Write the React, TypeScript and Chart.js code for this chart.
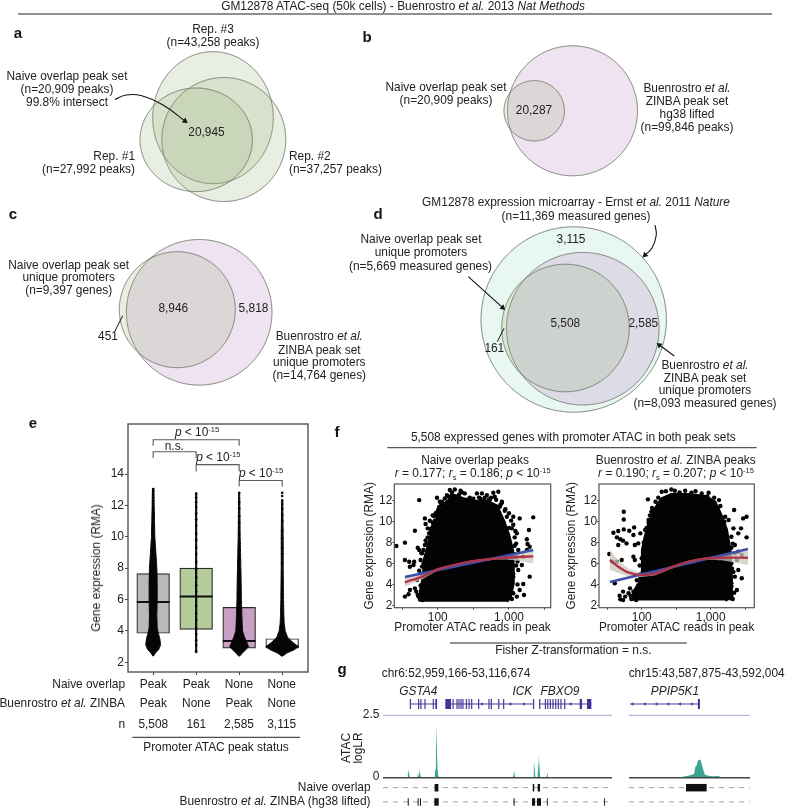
import React, { useEffect, useRef } from "react";
import { Chart, registerables } from "chart.js";

Chart.register(...registerables);
const FONT = '"Liberation Sans", Arial, Helvetica, sans-serif';
Chart.defaults.font.family = FONT;
Chart.defaults.font.size = 11.9;
Chart.defaults.color = "#222";

// ---------- panel e data ----------
const swarmCategories = [1, 2, 3, 4];
const naiveStatus = ["Peak", "Peak", "None", "None"];
const zinbaStatus = ["Peak", "None", "Peak", "None"];
const geneCounts = ["5,508", "161", "2,585", "3,115"];
const boxQ1 = [3.85, 4.1, 2.9, 2.9];
const boxQ3 = [7.65, 8.0, 5.5, 3.5];
const boxMedian = [5.85, 6.2, 3.35, 3.0];
const boxColors = ["#B9B9B7", "#B4CB9A", "#C7A0C4", "#FFFFFF"];
const swarmLevels1 = [13.1, 12, 11, 10, 9, 8, 7, 6, 5, 4.2, 3.9, 3.5, 3.1, 2.8, 2.6, 2.4];
const swarmHalf1 = [0.016, 0.023, 0.031, 0.039, 0.0625, 0.086, 0.094, 0.094, 0.086, 0.094, 0.117, 0.156, 0.172, 0.125, 0.055, 0.008];
const swarmLevels2 = [12.8, 2.6];
const swarmHalf2 = [0.012, 0.012];
const swarmLevels3 = [12.85, 10, 9, 8, 7, 6, 5, 4.5, 4, 3.6, 3.3, 3.0, 2.8, 2.6, 2.4];
const swarmHalf3 = [0.012, 0.023, 0.031, 0.039, 0.047, 0.051, 0.0625, 0.07, 0.078, 0.125, 0.172, 0.219, 0.156, 0.078, 0.016];
const swarmLevels4 = [12.4, 10, 8, 6, 5, 4.5, 4, 3.6, 3.3, 3.0, 2.8, 2.6, 2.4];
const swarmHalf4 = [0.012, 0.023, 0.023, 0.031, 0.039, 0.047, 0.07, 0.125, 0.234, 0.375, 0.281, 0.117, 0.016];
const swarmDots1 = [13.05, 12.9, 12.7, 12.5, 12.3, 12.1, 11.9, 11.7, 11.5, 11.3, 11.1, 10.9, 10.7];
const swarmDots2 = [12.75, 12.5, 12.2, 11.9, 11.5, 11.1, 10.7, 10.2, 9.8, 9.3, 8.9, 8.4, 7.9, 7.4, 6.9, 6.5, 5.6, 5.1, 4.7, 4.2, 3.8, 3.4, 3.1, 2.7];
const swarmDots3 = [12.8, 12.2, 11.8, 11.3, 10.9, 10.2, 9.6, 9.1, 8.5, 7.9, 7.2, 6.6, 4.6];
const swarmDots4 = [12.8, 12.6, 12.3, 12.1, 11.8, 11.4, 11.0, 10.4, 9.9, 9.3, 8.9, 8.3, 7.1, 6.3];

// ---------- panel f data ----------
const naiveCoreLog = [1.75, 1.76, 1.8, 1.81, 1.85, 1.9, 1.92, 1.99, 2.1, 2.24, 2.36, 2.5, 2.69, 2.83, 2.92, 2.99, 3.05, 3.06, 3.06, 3.02, 2.97];
const naiveCoreRma = [2.35, 3.46, 4.74, 6.33, 7.29, 8.56, 9.52, 10.3, 11.73, 12.5, 12.2, 11.95, 11.95, 11.5, 10.15, 8.88, 7.29, 5.69, 4.1, 2.83, 2.35];
const naiveDotLog = [1.42, 1.54, 1.54, 1.6, 1.67, 1.61, 1.74, 1.68, 1.82, 1.83, 1.86, 1.72, 1.74, 1.78, 1.76, 1.66, 1.54, 1.59, 1.61, 1.68, 1.71, 1.7, 1.73, 1.99, 2.03, 2.1, 2.17, 2.24, 2.32, 2.38, 2.13, 2.08, 2.01, 1.95, 1.89, 1.86, 1.82, 1.8, 2.55, 2.62, 2.69, 2.78, 2.85, 2.8, 2.73, 2.87, 2.94, 2.97, 3.06, 3.15, 3.34, 2.92, 3.04, 3.11, 3.28, 3.25, 3.26, 3.29, 3.08, 3.13, 3.2, 3.18, 3.29, 3.2, 3.15, 3.21, 3.11, 3.06, 3.04, 3.25, 3.13, 3.06, 2.45, 2.5, 2.6, 2.3, 2.2, 2.05, 2.0, 1.93, 2.9, 1.75, 1.72, 1.79, 3.0, 3.1, 3.12];
const naiveDotRma = [7.67, 7.99, 6.33, 6.17, 6.17, 5.69, 12.06, 9.13, 10.31, 9.77, 9.36, 7.51, 7.29, 6.97, 6.33, 5.85, 2.83, 3.05, 3.46, 3.62, 4.42, 3.31, 2.83, 12.29, 11.9, 12.22, 13.02, 13.08, 12.96, 12.7, 12.54, 11.11, 11.17, 10.54, 10.09, 8.5, 7.76, 7.29, 12.7, 12.7, 12.54, 12.76, 12.86, 12.38, 12.06, 11.43, 11.04, 10.47, 10.47, 10.31, 10.41, 9.99, 9.36, 8.88, 9.2, 8.31, 7.86, 7.6, 8.5, 7.29, 6.65, 5.85, 4.74, 4.04, 3.46, 2.99, 2.83, 3.15, 2.6, 7.29, 5.38, 4.74, 12.3, 12.2, 12.2, 12.6, 12.5, 11.6, 11, 10.6, 11.9, 2.6, 3.0, 2.5, 9.4, 6.6, 4.0];
const naiveFringeLog = [1.78, 1.8, 1.77, 1.82, 1.85, 1.8, 1.83, 1.88, 1.9, 1.93, 1.97, 2.02, 2.06, 2.15, 2.2, 2.28, 2.34, 2.42, 2.48, 2.58, 2.65, 2.75, 2.82, 2.88, 2.95, 3.0, 3.03, 3.06, 3.09, 3.1, 3.08, 3.12, 3.07, 3.1, 3.06, 3.02, 1.78, 1.76, 1.8, 1.74, 1.78, 1.77, 1.85, 1.87, 1.93, 1.96, 2.0, 2.66, 2.72, 2.9];
const naiveFringeRma = [3.2, 4.0, 5.0, 5.2, 6.8, 6.0, 8.2, 8.9, 9.3, 9.9, 10.8, 11.4, 11.9, 12.4, 12.8, 12.4, 12.8, 12.1, 11.9, 12.3, 12.0, 12.3, 12.1, 11.6, 11.2, 10.8, 10.1, 9.7, 9.1, 7.9, 7.7, 6.2, 6.9, 5.8, 5.0, 3.1, 2.8, 3.9, 4.4, 5.3, 5.7, 7.0, 7.9, 7.7, 9.0, 10.1, 10.6, 12.3, 12.15, 11.8];
const naiveLinearLog = [1.54, 3.34];
const naiveLinearRma = [4.71, 7.29];
const naiveLoessLog = [1.54, 1.8, 2, 2.45, 2.83, 3.06, 3.34];
const naiveLoessRma = [4.2, 4.8, 5.44, 6.17, 6.49, 6.59, 6.68];
const naiveBandUpper = [4.6, 5.05, 5.55, 6.27, 6.6, 6.85, 7.25];
const naiveBandLower = [3.8, 4.55, 5.33, 6.07, 6.38, 6.33, 6.0];

const zinbaCoreLog = [1.86, 1.9, 2.01, 2.01, 2.05, 2.12, 2.19, 2.29, 2.43, 2.68, 2.92, 3.06, 3.16, 3.23, 3.28, 3.3, 3.3, 3.21];
const zinbaCoreRma = [2.45, 3.46, 4.58, 7.29, 8.56, 10.15, 11.2, 12.2, 12.6, 12.6, 12.4, 11.9, 10.47, 9.2, 7.29, 4.74, 2.83, 2.45];
const zinbaDotLog = [1.53, 1.59, 1.66, 1.74, 1.74, 1.74, 1.82, 1.89, 1.64, 1.69, 1.73, 1.78, 1.66, 1.88, 1.9, 1.88, 1.9, 1.71, 1.64, 1.57, 1.61, 1.68, 1.73, 1.69, 1.76, 1.81, 1.83, 1.73, 1.95, 1.98, 2.09, 2.14, 2.1, 2.05, 2.29, 2.43, 2.48, 2.63, 2.72, 2.87, 2.97, 3.12, 3.01, 3.21, 3.34, 3.26, 3.33, 3.52, 3.47, 3.44, 3.52, 3.4, 3.3, 3.35, 3.4, 3.35, 3.45, 3.38, 3.3, 3.4, 3.35, 3.45, 3.3, 3.38, 3.28, 3.23];
const zinbaDotRma = [6.9, 8.94, 9.1, 9.26, 10.95, 10.2, 9.13, 9.45, 8.5, 8.31, 8.18, 7.92, 7.76, 8.72, 7.76, 6.65, 6.33, 6.33, 6.17, 6.17, 4.1, 2.92, 3.31, 2.57, 2.83, 3.15, 3.62, 2.51, 7.92, 8.88, 12.13, 10.95, 10.15, 9.2, 12.86, 13.08, 12.96, 12.96, 12.76, 12.7, 12.76, 12.06, 11.59, 10.47, 11.11, 10.15, 9.36, 10.47, 10.31, 9.36, 8.5, 8.88, 8.56, 7.76, 7.13, 6.97, 6.81, 6.33, 6.01, 5.38, 4.74, 4.58, 4.1, 3.46, 2.67, 3.15];
const zinbaFringeLog = [1.84, 1.88, 1.92, 1.96, 1.95, 1.93, 1.98, 1.97, 2.0, 2.03, 2.07, 2.1, 2.15, 2.2, 2.24, 2.35, 2.55, 2.78, 2.95, 3.05, 3.1, 3.14, 3.2, 3.25, 3.3, 3.32, 3.31, 3.33, 3.3, 3.34, 3.3, 3.32, 3.27, 2.12, 2.17, 2.25, 2.02, 1.98, 1.85, 1.92];
const zinbaFringeRma = [2.9, 3.3, 2.7, 3.1, 3.9, 4.4, 5.0, 5.8, 6.5, 8.0, 9.4, 9.9, 11.3, 11.9, 12.3, 12.9, 12.8, 12.9, 12.4, 12.3, 11.3, 11.5, 10.0, 8.0, 7.5, 7.9, 5.5, 5.2, 3.8, 3.2, 2.9, 2.6, 3.6, 10.6, 10.9, 11.7, 5.4, 4.6, 2.6, 2.5];
const zinbaLinearLog = [1.54, 3.54];
const zinbaLinearRma = [4.23, 7.38];
const zinbaLoessLog = [1.54, 1.66, 1.81, 2, 2.19, 2.43, 2.68, 2.92, 3.16, 3.54];
const zinbaLoessRma = [6.33, 5.69, 5.12, 4.9, 5.0, 5.63, 6.17, 6.46, 6.55, 6.55];
const zinbaBandUpper = [7.3, 6.3, 5.5, 5.1, 5.15, 5.75, 6.27, 6.57, 6.75, 7.25];
const zinbaBandLower = [5.4, 5.1, 4.75, 4.7, 4.85, 5.5, 6.07, 6.35, 6.3, 5.85];

// ---------- panel g data (kb from the start of each region) ----------
const leftTrackKb = [0, 16.6, 17.1, 17.4, 17.8, 18.4, 23.6, 24.1, 24.6, 25.2, 25.7, 26.2, 35.6, 36, 36.4, 36.7, 37, 37.5, 38, 38.6, 60, 89.4, 89.9, 90.1, 90.4, 90.9, 103.3, 103.7, 103.9, 104.2, 104.8, 106.3, 106.8, 107.1, 107.5, 108.1, 112.5, 113, 113.5, 152, 152.3, 152.6, 157.5];
const leftTrackLogLR = [0.01, 0.01, 0.2, 0.3, 0.2, 0.01, 0.01, 0.2, 0.03, 0.33, 0.1, 0.01, 0.03, 0.35, 1.2, 2.08, 1.2, 0.35, 0.1, 0.01, 0.01, 0.01, 0.18, 0.33, 0.18, 0.01, 0.01, 0.4, 0.7, 0.4, 0.01, 0.01, 0.55, 0.93, 0.55, 0.01, 0.01, 0.22, 0.01, 0.01, 0.04, 0.01, 0.01];
const rightTrackKb = [0, 1.5, 1.74, 2.02, 2.14, 2.22, 2.26, 2.31, 2.35, 2.4, 2.45, 2.49, 2.54, 2.59, 2.71, 2.88, 3.05, 3.16, 4.13];
const rightTrackLogLR = [0.005, 0.005, 0.02, 0.08, 0.12, 0.15, 0.42, 0.5, 0.68, 0.73, 0.7, 0.5, 0.3, 0.12, 0.08, 0.06, 0.07, 0.02, 0.005];
const leftIntronStart = [18.8, 42.9, 107.8];
const leftIntronEnd = [36.7, 103.6, 143.3];
const leftExonStart = [18.4, 24.1, 25.7, 28.5, 34.2, 36, 42.9, 47.8, 50.5, 51.9, 53.3, 54.6, 56.9, 58.8, 60.6, 65.4, 72.5, 74.1, 79.2, 82.6, 103.2, 107.4, 111.3, 112.9, 114.7, 116.5, 118.4, 120.2, 122, 124.6, 135.3, 140.3];
const leftExonEnd = [19.2, 24.9, 26.5, 29.3, 35, 37.2, 46.8, 48.6, 51.3, 52.7, 54.1, 55.4, 57.7, 59.6, 61.4, 66.2, 73.3, 74.9, 80, 83.4, 104, 108.2, 112.1, 113.7, 115.5, 117.3, 119.2, 121, 122.8, 125.4, 136.9, 143.3];
const leftStrandKb = [68, 87.6, 97, 129];
const rightIntronStart = [0.034];
const rightIntronEnd = [2.42];
const rightExonStart = [2.35];
const rightExonEnd = [2.42];
const rightStrandKb = [0.125, 0.546, 0.944, 1.342, 1.74, 2.14];
const leftNaiveStart = [35.5, 103, 106.4];
const leftNaiveEnd = [38.1, 104, 108];
const leftZinbaStart = [17, 23.8, 25.4, 35.3, 89.8, 102.5, 105.9, 112.7, 152];
const leftZinbaEnd = [17.7, 24.5, 26.1, 38.3, 90.5, 104.6, 108.7, 113.3, 152.6];
const rightNaiveStart = [1.945];
const rightNaiveEnd = [2.65];

// ---------- geometry constants for the diagram panels (layout, not data) ----------
const GREEN = "rgba(143,171,110,0.2)";
const PURPLE = "rgba(190,140,200,0.25)";
const CYAN = "rgba(150,220,190,0.22)";
const EDGE = "rgba(105,110,98,0.85)";
type Ell = [number, number, number, number, string];
const VENN_SHAPES: Ell[] = [
  [213, 117.7, 60.3, 66, GREEN],
  [223.8, 139.5, 62, 62, GREEN],
  [196.2, 139.8, 56.2, 51.8, GREEN],
  [572.5, 110.8, 65, 65, PURPLE],
  [534.2, 110.8, 30.2, 30.2, GREEN],
  [199.2, 312.3, 72.8, 72.8, PURPLE],
  [177.3, 309.7, 58, 58, GREEN],
  [573.7, 319.5, 92.7, 92.7, CYAN],
  [582.8, 328.7, 76.3, 76.3, PURPLE],
  [565.5, 328, 63.8, 63.8, GREEN],
];

const ellipse = (cx: number, cy: number, rx: number, ry: number) => {
  const pts = [] as { x: number; y: number }[];
  for (let i = 0; i <= 160; i++) {
    const a = (i / 160) * 2 * Math.PI;
    pts.push({ x: cx + rx * Math.cos(a), y: cy + ry * Math.sin(a) });
  }
  return pts;
};
const xy = (xs: number[], ys: number[]) => xs.map((x, i) => ({ x, y: ys[i] }));
const lxy = (logs: number[], ys: number[]) => logs.map((l, i) => ({ x: Math.pow(10, l), y: ys[i] }));
const segs = (starts: number[], ends: number[], y: number) =>
  starts.flatMap((s, i) => [{ x: s, y }, { x: ends[i], y }, { x: NaN, y: NaN }]);
const lineDs = (data: any[], color: string, width = 1, extra: any = {}) => ({
  type: "line", data, borderColor: color, borderWidth: width, pointRadius: 0, fill: false, tension: 0, ...extra,
});
const pointDs = (data: any[], color: string, r: number, extra: any = {}) => ({
  type: "line", data, showLine: false, pointRadius: r, pointBackgroundColor: color, pointBorderWidth: 0, ...extra,
});
const polyDs = (data: any[], color: string, edge = "rgba(0,0,0,0)", w = 0) => ({
  type: "line", data, backgroundColor: color, borderColor: edge, borderWidth: w, pointRadius: 0, fill: "shape", tension: 0.001,
});
const arrow = (pts: number[][]) => {
  const data = pts.map(([x, y]) => ({ x, y }));
  const a = pts[pts.length - 2];
  const b = pts[pts.length - 1];
  const rot = (Math.atan2(b[0] - a[0], -(b[1] - a[1])) * 180) / Math.PI;
  return [
    lineDs(data, "#111", 1.1, { tension: 0.4 }),
    pointDs([{ x: b[0], y: b[1] }], "#111", 3.4, { pointStyle: "triangle", pointRotation: rot }),
  ];
};

const noPlugins = { legend: { display: false }, tooltip: { enabled: false } };
const framePlugin = (color: string, width: number) => ({
  id: "frame",
  afterDatasetsDraw(chart: any) {
    const { ctx, chartArea: a } = chart;
    ctx.save();
    ctx.strokeStyle = color;
    ctx.lineWidth = width;
    ctx.strokeRect(a.left, a.top, a.right - a.left, a.bottom - a.top);
    ctx.restore();
  },
});
const zeroPadding = (s: any) => {
  s.paddingTop = 0;
  s.paddingBottom = 0;
  s.paddingLeft = 0;
  s.paddingRight = 0;
};

// ---------- chart configurations ----------
const layoutConfig = () => ({
  type: "line",
  data: {
    datasets: [
      ...VENN_SHAPES.map(([x, y, rx, ry, c]) => polyDs(ellipse(x, y, rx, ry), c, EDGE, 1)),
      lineDs([{ x: 18, y: 14 }, { x: 772, y: 14 }], "#222", 1),
      lineDs([{ x: 387.3, y: 447.7 }, { x: 756.7, y: 447.7 }], "#555", 1.3),
      lineDs([{ x: 450, y: 643 }, { x: 686.7, y: 643 }], "#222", 1),
      lineDs([{ x: 132.3, y: 737.3 }, { x: 300, y: 737.3 }], "#222", 1),
      lineDs([{ x: 122.7, y: 315.7 }, { x: 115, y: 331 }], "#111", 1),
      lineDs([{ x: 504, y: 328.3 }, { x: 497.3, y: 341.7 }], "#111", 1),
      ...arrow([[115, 99.5], [126, 95], [141, 95.5], [163, 105], [185, 121]]),
      ...arrow([[655, 225], [656.3, 235], [652, 248], [645, 255]]),
      ...arrow([[468.3, 276.7], [502.7, 307.7]]),
      ...arrow([[674.3, 356], [659.3, 345]]),
    ].reverse(),
  },
  options: {
    responsive: false, animation: false, events: [],
    plugins: noPlugins,
    layout: { padding: 0, autoPadding: false },
    scales: {
      x: { type: "linear", display: false, min: 0, max: 785 },
      y: { type: "linear", display: false, min: 0, max: 809, reverse: true },
    },
  },
});

const swarmPoly = (cat: number, levels: number[], half: number[]) => {
  const right = levels.map((y, i) => ({ x: cat + half[i], y }));
  const left = levels.map((y, i) => ({ x: cat - half[i], y })).reverse();
  return polyDs([...right, ...left], "#050505", "#050505", 1);
};
const bracket = (a: number, b: number, top: number, foot: number) =>
  lineDs([{ x: a, y: foot }, { x: a, y: top }, { x: b, y: top }, { x: b, y: foot }], "#5a5a5a", 1.1);

const boxConfig = () => ({
  type: "line",
  data: {
    datasets: [
      {
        type: "bar",
        data: swarmCategories.map((x, i) => ({ x, y: [boxQ1[i], boxQ3[i]] })),
        backgroundColor: boxColors,
        borderColor: "#2a2a2a",
        borderWidth: 1.2,
        borderSkipped: false,
        barThickness: 32.7,
      },
      pointDs(swarmCategories.map((x, i) => ({ x, y: boxMedian[i] })), "#111", 16.4, {
        pointStyle: "line", pointBorderColor: "#111", pointBorderWidth: 2,
      }),
      swarmPoly(1, swarmLevels1, swarmHalf1),
      swarmPoly(2, swarmLevels2, swarmHalf2),
      swarmPoly(3, swarmLevels3, swarmHalf3),
      swarmPoly(4, swarmLevels4, swarmHalf4),
      pointDs(swarmDots1.map((y) => ({ x: 1, y })), "#050505", 1.3),
      pointDs(swarmDots2.map((y) => ({ x: 2, y })), "#050505", 1.3),
      pointDs(swarmDots3.map((y) => ({ x: 3, y })), "#050505", 1.3),
      pointDs(swarmDots4.map((y) => ({ x: 4, y })), "#050505", 1.3),
      bracket(1, 3, 16.19, 15.8),
      bracket(1, 2, 15.42, 15.03),
      bracket(2, 3, 14.6, 14.16),
      bracket(3, 4, 13.59, 13.2),
    ].reverse(),
  },
  options: {
    responsive: false, animation: false, events: [],
    plugins: noPlugins,
    layout: { autoPadding: false, padding: { top: 2, right: 2, left: 0, bottom: 0 } },
    scales: {
      x: {
        type: "linear", min: 0.415, max: 4.6, offset: false,
        grid: { drawOnChartArea: false, tickLength: 3, color: "#444", offset: false },
        border: { display: false },
        ticks: { display: false },
        afterBuildTicks: (s: any) => { s.ticks = swarmCategories.map((value) => ({ value })); },
        afterFit: (s: any) => { s.height = 6; zeroPadding(s); },
      },
      y: {
        type: "linear", min: 1.38, max: 17.19,
        grid: { drawOnChartArea: false, tickLength: 3, color: "#444" },
        border: { display: false },
        ticks: { padding: 1, color: "#222", font: { size: 12 }, callback: (v: any) => String(v) },
        afterBuildTicks: (s: any) => { s.ticks = [2, 4, 6, 8, 10, 12, 14].map((value) => ({ value })); },
        afterFit: (s: any) => { s.width = 40; zeroPadding(s); },
      },
    },
  },
  plugins: [framePlugin("#555", 1.4)],
});

const scatterConfig = (o: any) => ({
  type: "line",
  data: {
    datasets: [
      polyDs(lxy(o.coreLog, o.coreRma), "#030303", "#030303", 3),
      pointDs(lxy(o.dotLog, o.dotRma), "#030303", 2.2),
      pointDs(lxy(o.fringeLog, o.fringeRma), "#030303", 2.2),
      polyDs([...lxy(o.loessLog, o.upper), ...lxy(o.loessLog, o.lower).reverse()], "rgba(205,200,190,0.75)"),
      lineDs(lxy(o.linearLog, o.linearRma), "#3D4FA6", 2.6),
      lineDs(lxy(o.loessLog, o.loessRma), "#B0344A", 2.4, { tension: 0.35 }),
    ].reverse(),
  },
  options: {
    responsive: false, animation: false, events: [],
    plugins: noPlugins,
    layout: { autoPadding: false, padding: { top: 4, right: o.padRight, left: 0, bottom: 0 } },
    scales: {
      x: {
        type: "logarithmic", min: Math.pow(10, o.logMin), max: Math.pow(10, o.logMax),
        grid: { drawOnChartArea: false, tickLength: 2, color: "#444" },
        border: { display: false },
        title: { display: true, text: "Promoter ATAC reads in peak", font: { size: 11.9 }, color: "#222", padding: 0 },
        ticks: {
          autoSkip: false, maxRotation: 0, padding: 1, color: "#222", font: { size: 11.9 },
          callback: (v: any) => (v === 100 ? "100" : v === 1000 ? "1,000" : ""),
        },
        afterBuildTicks: (s: any) => { s.ticks = [31.6, 100, 316, 1000, 3162].map((value) => ({ value })); },
        afterFit: (s: any) => { s.height = 27.3; zeroPadding(s); },
      },
      y: {
        type: "linear", min: 1.77, max: 13.6,
        grid: { drawOnChartArea: false, tickLength: 2, color: "#444" },
        border: { display: false },
        title: { display: true, text: "Gene expression (RMA)", font: { size: 11.9 }, color: "#222", padding: { top: 2.8, bottom: 0 } },
        ticks: { padding: 0, color: "#222", font: { size: 11.9 }, callback: (v: any) => String(v) },
        afterBuildTicks: (s: any) => { s.ticks = [2, 4, 6, 8, 10, 12].map((value) => ({ value })); },
        afterFit: (s: any) => { s.width = o.yWidth; zeroPadding(s); },
      },
    },
  },
  plugins: [framePlugin("#555", 1.2)],
});

const GENE_Y = 2.953;
const NAIVE_Y = -0.4;
const ZINBA_Y = -0.97;
const trackConfig = (o: any) => ({
  type: "line",
  data: {
    datasets: [
      lineDs([{ x: 0, y: 2.5 }, { x: o.span, y: 2.5 }], "#A9A5CF", 1),
      lineDs(xy(o.trackKb, o.trackLogLR), "rgba(0,0,0,0)", 0, { fill: "origin", backgroundColor: "#3AA592" }),
      lineDs([{ x: 0, y: 0 }, { x: o.span, y: 0 }], "#444", 1.5),
      lineDs([{ x: 0, y: NAIVE_Y }, { x: o.span, y: NAIVE_Y }], "#8a8a8a", 0.8, { borderDash: [5, 5] }),
      lineDs([{ x: 0, y: ZINBA_Y }, { x: o.span, y: ZINBA_Y }], "#8a8a8a", 0.8, { borderDash: [5, 5] }),
      lineDs(segs(o.naiveStart, o.naiveEnd, NAIVE_Y), "#111", 7.5),
      ...(o.zinbaStart.length ? [lineDs(segs(o.zinbaStart, o.zinbaEnd, ZINBA_Y), "#111", 7.5)] : []),
      lineDs(segs(o.intronStart, o.intronEnd, GENE_Y), "#4A3FA0", 1),
      lineDs(segs(o.exonStart, o.exonEnd, GENE_Y), "#3F3596", 10),
      pointDs(o.strandKb.map((x: number) => ({ x, y: GENE_Y })), "#4A3FA0", 2, { pointStyle: "triangle", pointRotation: -90 }),
    ].reverse(),
  },
  options: {
    responsive: false, animation: false, events: [],
    plugins: noPlugins,
    layout: { padding: 0, autoPadding: false },
    scales: {
      x: { type: "linear", display: false, min: 0, max: o.span },
      y: { type: "linear", display: false, min: -1.254, max: 3.273 },
    },
  },
});

// ---------- small components ----------
function ChartCanvas({ config, left, top, width, height }: any) {
  const ref = useRef<HTMLCanvasElement | null>(null);
  useEffect(() => {
    const chart = new Chart(ref.current as any, config());
    return () => chart.destroy();
  }, []);
  return <canvas ref={ref} width={width} height={height} style={{ position: "absolute", left, top, width, height }} />;
}

function T({ x, y, a = "c", rot = 0, size = 11.9, weight, color = "#222", children }: any) {
  const tx = a === "c" ? "-50%" : a === "r" ? "-100%" : "0";
  return (
    <div
      style={{
        position: "absolute", left: x, top: y, whiteSpace: "nowrap", lineHeight: 1, fontSize: size, fontWeight: weight,
        color, fontFamily: FONT, transform: `translate(${tx},-50%) rotate(${rot}deg)`,
      }}
    >
      {children}
    </div>
  );
}
const I = ({ children }: any) => <i>{children}</i>;
const Sup = ({ children }: any) => <span style={{ fontSize: 7.5, position: "relative", top: -4 }}>{children}</span>;
const Sub = ({ children }: any) => <span style={{ fontSize: 7.5, position: "relative", top: 3 }}>{children}</span>;
const P15 = () => (<><I>p</I> &lt; 10<Sup>-15</Sup></>);

const columnX = [153.3, 196.3, 239, 281.7];

export default function App() {
  return (
    <div style={{ position: "relative", width: 785, height: 809, overflow: "hidden", background: "#fff" }}>
      <style>{`body{margin:0}`}</style>
      <ChartCanvas config={layoutConfig} left={0} top={0} width={785} height={809} />
      <ChartCanvas config={boxConfig} left={88} top={422} width={222} height={256} />
      <ChartCanvas
        config={() => scatterConfig({
          coreLog: naiveCoreLog, coreRma: naiveCoreRma, dotLog: naiveDotLog, dotRma: naiveDotRma,
          fringeLog: naiveFringeLog, fringeRma: naiveFringeRma,
          linearLog: naiveLinearLog, linearRma: naiveLinearRma, loessLog: naiveLoessLog, loessRma: naiveLoessRma,
          upper: naiveBandUpper, lower: naiveBandLower, logMin: 1.391, logMax: 3.585, yWidth: 34.3, padRight: 2.3,
        })}
        left={360} top={480} width={193} height={155}
      />
      <ChartCanvas
        config={() => scatterConfig({
          coreLog: zinbaCoreLog, coreRma: zinbaCoreRma, dotLog: zinbaDotLog, dotRma: zinbaDotRma,
          fringeLog: zinbaFringeLog, fringeRma: zinbaFringeRma,
          linearLog: zinbaLinearLog, linearRma: zinbaLinearRma, loessLog: zinbaLoessLog, loessRma: zinbaLoessRma,
          upper: zinbaBandUpper, lower: zinbaBandLower, logMin: 1.381, logMax: 3.632, yWidth: 37, padRight: 2.7,
        })}
        left={562} top={480} width={195} height={155}
      />
      <ChartCanvas
        config={() => trackConfig({
          span: 157.508, trackKb: leftTrackKb, trackLogLR: leftTrackLogLR, intronStart: leftIntronStart, intronEnd: leftIntronEnd,
          exonStart: leftExonStart, exonEnd: leftExonEnd, strandKb: leftStrandKb, naiveStart: leftNaiveStart, naiveEnd: leftNaiveEnd,
          zinbaStart: leftZinbaStart, zinbaEnd: leftZinbaEnd,
        })}
        left={383} top={696} width={229} height={113}
      />
      <ChartCanvas
        config={() => trackConfig({
          span: 4.129, trackKb: rightTrackKb, trackLogLR: rightTrackLogLR, intronStart: rightIntronStart, intronEnd: rightIntronEnd,
          exonStart: rightExonStart, exonEnd: rightExonEnd, strandKb: rightStrandKb, naiveStart: rightNaiveStart, naiveEnd: rightNaiveEnd,
          zinbaStart: [], zinbaEnd: [],
        })}
        left={629} top={696} width={121} height={113}
      />

      <T x={403} y={6.5}>GM12878 ATAC-seq (50k cells) - Buenrostro <I>et al.</I> 2013 <I>Nat Methods</I></T>

      <T x={18} y={32} size={15} weight="bold" color="#111">a</T>
      <T x={367} y={36} size={15} weight="bold" color="#111">b</T>
      <T x={13} y={213} size={15} weight="bold" color="#111">c</T>
      <T x={378} y={213} size={15} weight="bold" color="#111">d</T>
      <T x={33} y={422} size={15} weight="bold" color="#111">e</T>
      <T x={337} y={431} size={15} weight="bold" color="#111">f</T>
      <T x={342} y={668} size={15} weight="bold" color="#111">g</T>

      <T x={213} y={29.5}>Rep. #3</T>
      <T x={213} y={43}>(n=43,258 peaks)</T>
      <T x={67} y={77}>Naive overlap peak set</T>
      <T x={67} y={90}>(n=20,909 peaks)</T>
      <T x={67} y={102.5}>99.8% intersect</T>
      <T x={206.5} y={132.5}>20,945</T>
      <T x={135} y={157} a="r">Rep. #1</T>
      <T x={135} y={170} a="r">(n=27,992 peaks)</T>
      <T x={289} y={157} a="l">Rep. #2</T>
      <T x={289} y={170} a="l">(n=37,257 peaks)</T>

      <T x={446} y={88}>Naive overlap peak set</T>
      <T x={446} y={101}>(n=20,909 peaks)</T>
      <T x={534} y={110.5}>20,287</T>
      <T x={687} y={89}>Buenrostro <I>et al.</I></T>
      <T x={687} y={102}>ZINBA peak set</T>
      <T x={687} y={115}>hg38 lifted</T>
      <T x={687} y={128}>(n=99,846 peaks)</T>

      <T x={68.7} y={265.7}>Naive overlap peak set</T>
      <T x={68.7} y={278.3}>unique promoters</T>
      <T x={68.7} y={291}>(n=9,397 genes)</T>
      <T x={173.3} y={308.7}>8,946</T>
      <T x={253.5} y={308.5}>5,818</T>
      <T x={108} y={336.7}>451</T>
      <T x={319.3} y={337.3}>Buenrostro <I>et al.</I></T>
      <T x={319.3} y={350.6}>ZINBA peak set</T>
      <T x={319.3} y={363.3}>unique promoters</T>
      <T x={319.3} y={376}>(n=14,764 genes)</T>

      <T x={576} y={203}>GM12878 expression microarray - Ernst <I>et al.</I> 2011 <I>Nature</I></T>
      <T x={576} y={217}>(n=11,369 measured genes)</T>
      <T x={421} y={240}>Naive overlap peak set</T>
      <T x={421} y={253.3}>unique promoters</T>
      <T x={420.5} y={266.7}>(n=5,669 measured genes)</T>
      <T x={571} y={240}>3,115</T>
      <T x={565.3} y={324.3}>5,508</T>
      <T x={643.3} y={324}>2,585</T>
      <T x={494.3} y={349}>161</T>
      <T x={705} y={365.7}>Buenrostro <I>et al.</I></T>
      <T x={705} y={378.7}>ZINBA peak set</T>
      <T x={705} y={391}>unique promoters</T>
      <T x={705} y={404}>(n=8,093 measured genes)</T>

      <T x={197} y={433}><P15 /></T>
      <T x={174.3} y={447}>n.s.</T>
      <T x={218.3} y={458.3}><P15 /></T>
      <T x={261} y={473.7}><P15 /></T>
      <T x={97} y={568.3} rot={-90}>Gene expression (RMA)</T>

      <T x={125} y={685} a="r">Naive overlap</T>
      <T x={125} y={704.3} a="r">Buenrostro <I>et al.</I> ZINBA</T>
      <T x={125} y={724.7} a="r">n</T>
      {columnX.map((x, i) => <T key={`a${i}`} x={x} y={685}>{naiveStatus[i]}</T>)}
      {columnX.map((x, i) => <T key={`b${i}`} x={x} y={704.3}>{zinbaStatus[i]}</T>)}
      {columnX.map((x, i) => <T key={`c${i}`} x={x} y={724.7}>{geneCounts[i]}</T>)}
      <T x={216} y={747.7}>Promoter ATAC peak status</T>

      <T x={573.3} y={438.3}>5,508 expressed genes with promoter ATAC in both peak sets</T>
      <T x={475} y={461}>Naive overlap peaks</T>
      <T x={472.7} y={474.3}><I>r</I> = 0.177; <I>r</I><Sub>s</Sub> = 0.186; <P15 /></T>
      <T x={675.7} y={461}>Buenrostro <I>et al.</I> ZINBA peaks</T>
      <T x={676} y={474.3}><I>r</I> = 0.190; <I>r</I><Sub>s</Sub> = 0.207; <P15 /></T>

      <T x={573.3} y={651.3}>Fisher Z-transformation = n.s.</T>
      <T x={456} y={674}>chr6:52,959,166-53,116,674</T>
      <T x={706.7} y={674}>chr15:43,587,875-43,592,004</T>
      <T x={418.3} y={691.7}><I>GSTA4</I></T>
      <T x={522.3} y={691.7}><I>ICK</I></T>
      <T x={560} y={691.7}><I>FBXO9</I></T>
      <T x={675} y={691.7}><I>PPIP5K1</I></T>
      <T x={379.3} y={714.7} a="r">2.5</T>
      <T x={379.3} y={777.3} a="r">0</T>
      <T x={347} y={748} rot={-90}>ATAC</T>
      <T x={358.5} y={748} rot={-90}>logLR</T>
      <T x={370.5} y={787.7} a="r">Naive overlap</T>
      <T x={370.5} y={802} a="r">Buenrostro <I>et al.</I> ZINBA (hg38 lifted)</T>
    </div>
  );
}
